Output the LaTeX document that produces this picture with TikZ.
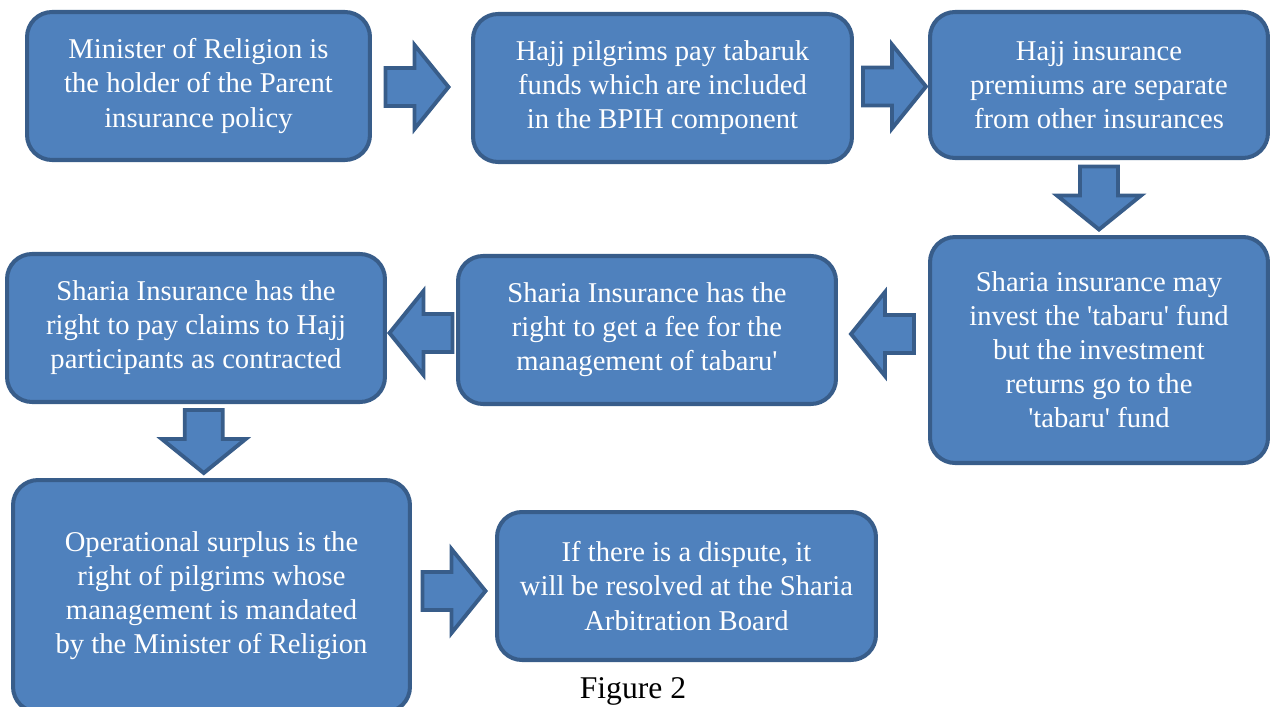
\documentclass[tikz,border=0pt]{standalone}
\usepackage{fontspec}
\setmainfont{Liberation Serif}
\usetikzlibrary{calc}
\definecolor{boxblue}{HTML}{4F81BD}
\definecolor{edgeblue}{HTML}{385D8A}
\newcommand{\blockarrow}[2]{\draw[barrow, shift={#1}, rotate=#2] (-31,-19) -- (-2,-19) -- (-2,-42) -- (32,0) -- (-2,42) -- (-2,19) -- (-31,19) -- cycle;}
\begin{document}
\begin{tikzpicture}[x=0.02cm, y=-0.02cm,
    stepbox/.style={draw=edgeblue, fill=boxblue, line width=2.3pt, rounded corners=0.5cm,
      text=white, align=center, font=\fontsize{16.3}{19.4}\selectfont},
    barrow/.style={draw=edgeblue, fill=boxblue, line width=2.2pt}]
    \clip (0,0) rectangle (1270,706);
    \useasboundingbox (0,0) rectangle (1270,706);
    \node[stepbox, minimum width=6.86cm, minimum height=2.96cm] (minister) at (198.5,86) {Minister of Religion is\\the holder of the Parent\\insurance policy};
    \node[stepbox, minimum width=7.58cm, minimum height=2.96cm] (pay) at (662.5,88) {Hajj pilgrims pay tabaruk\\funds which are included\\in the BPIH component};
    \node[stepbox, minimum width=6.76cm, minimum height=2.92cm] (premium) at (1099,85) {Hajj insurance\\premiums are separate\\from other insurances};
    \node[stepbox, minimum width=6.76cm, minimum height=4.52cm] (invest) at (1099,350) {Sharia insurance may\\invest the \textquotesingle tabaru\textquotesingle{} fund\\but the investment\\returns go to the\\\textquotesingle tabaru\textquotesingle{} fund};
    \node[stepbox, minimum width=7.56cm, minimum height=2.96cm] (fee) at (647,330) {Sharia Insurance has the\\right to get a fee for the\\management of tabaru\textquotesingle};
    \node[stepbox, minimum width=7.56cm, minimum height=2.96cm] (claims) at (196,328) {Sharia Insurance has the\\right to pay claims to Hajj\\participants as contracted};
    \node[stepbox, minimum width=7.94cm, minimum height=4.64cm] (surplus) at (211.5,596) {Operational surplus is the\\right of pilgrims whose\\management is mandated\\by the Minister of Religion};
    \node[stepbox, minimum width=7.58cm, minimum height=2.96cm] (dispute) at (686.5,586) {If there is a dispute, it\\will be resolved at the Sharia\\Arbitration Board};
    \node[font=\fontsize{18}{20}\selectfont] (caption) at (633,691) {Figure 2};
    % block arrows between the boxes
    \coordinate (m1) at ($(minister.east)!0.5!(pay.west)+(-5,0)$);
    \coordinate (m2) at ($(pay.east)!0.5!(premium.west)+(3,0)$);
    \coordinate (m3) at ($(premium.south)!0.5!(invest.north)$);
    \coordinate (m4) at ($(fee.east)!0.5!(fee.east -| invest.west)+(0,4)$);
    \coordinate (m5) at ($(claims.east)!0.5!(fee.west)+(0,4)$);
    \coordinate (m6) at ($(claims.south)!0.5!(surplus.north)$);
    \coordinate (m7) at ($(surplus.east)!0.5!(dispute.west)$);
    \blockarrow{(m1)}{0}
    \blockarrow{(m2)}{0}
    \blockarrow{(m3)}{-90}
    \blockarrow{(m4)}{180}
    \blockarrow{(m5)}{180}
    \blockarrow{(m6)}{-90}
    \blockarrow{(m7)}{0}
\end{tikzpicture}
\end{document}
